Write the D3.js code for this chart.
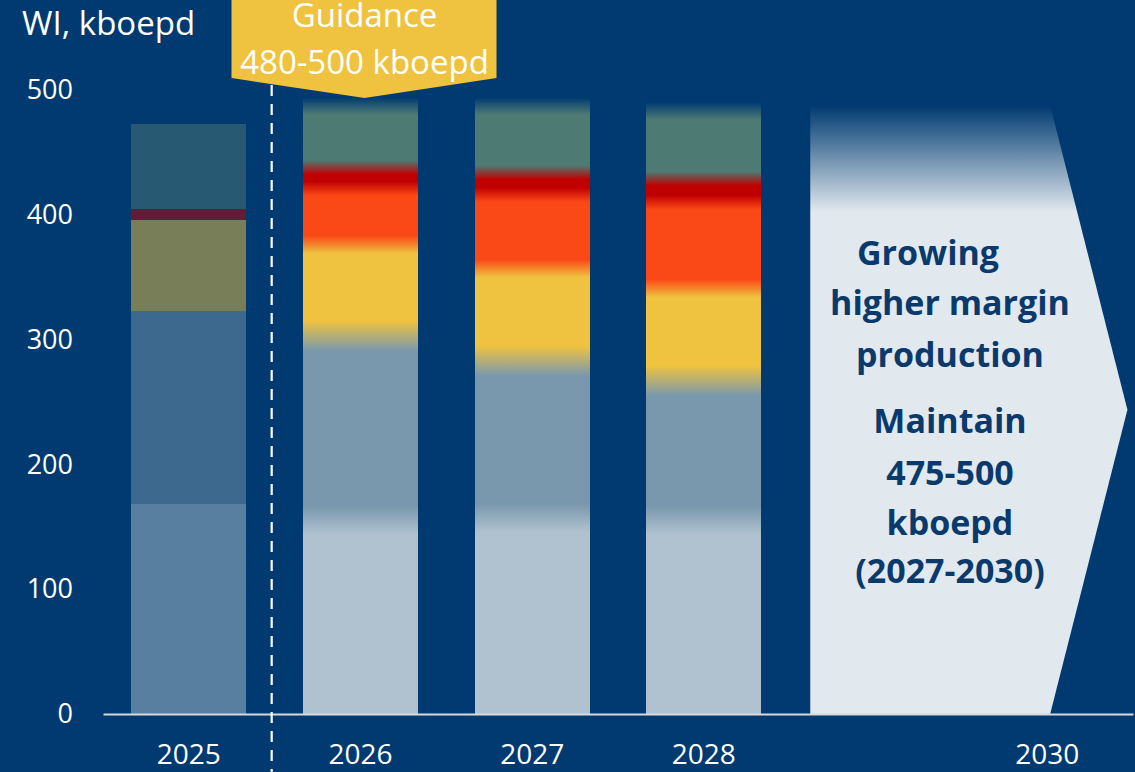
<!DOCTYPE html>
<html>
<head>
<meta charset="utf-8">
<script src="https://cdn.jsdelivr.net/npm/d3@7"></script>
<style>
  html, body { margin: 0; padding: 0; background: #003a70; }
  svg { display: block; }
  text { font-family: "Open Sans", "Noto Sans", sans-serif; }
</style>
</head>
<body>
<svg id="chart" width="1135" height="772"></svg>
<script>
// ---- data -------------------------------------------------------------
const years      = ["2025", "2026", "2027", "2028", "2029", "2030"];
const yearLabels = ["2025", "2026", "2027", "2028", "", "2030"];
const barYears   = ["2025", "2026", "2027", "2028"];
const actualYear = "2025";                 // drawn at half strength, crisp edges

// stacked production tiers, WI kboepd, bottom to top
const tierKeys = ["tier1", "tier2", "tier3", "tier4", "tier5", "tier6"];
const tier1 = [168, 155, 157, 155];
const tier2 = [155, 148, 126, 112];
const tier3 = [ 73,  73,  74,  74];
const tier4 = [  0,  45,  59,  69];
const tier5 = [  9,  17,  18,  19];
const tier6 = [ 68,  56,  60,  61];
const tierValues = [tier1, tier2, tier3, tier4, tier5, tier6];

const yTicks = [0, 100, 200, 300, 400, 500];

const guidanceLines = ["Guidance", "480-500 kboepd"];
const outlookRange  = [475, 500];
const outlookLines  = ["Growing", "higher margin", "production",
                       "Maintain", "475-500", "kboepd", "(2027-2030)"];

// ---- styles -----------------------------------------------------------
const W = 1135, H = 772;
const bg = "#003a70";
const tierColors = ["#b0c2cf", "#7a98ad", "#efc340", "#fb4817", "#c00000", "#4e7a74"];
// half-width (px) of the soft blend above each tier boundary: tier1|2, 2|3, 3|4, 4|5, 5|6
const blendHalf = [14, 15, 9, 7, 7];
const topFade = 17;
const arrowFill = "#e2e9ee";
const textNavy = "#0a3a6c";

const svg = d3.select("#chart");
svg.append("rect").attr("width", W).attr("height", H).attr("fill", bg);
const defs = svg.append("defs");

// ---- scales -----------------------------------------------------------
const x = d3.scaleBand().domain(years).range([103, 1133])
  .paddingInner(0.33).paddingOuter(0.165);
const y = d3.scaleLinear().domain([0, 500]).range([714, 90]);

const rows = barYears.map((yr, i) => {
  const r = { year: yr };
  tierKeys.forEach((k, j) => { r[k] = tierValues[j][i]; });
  return r;
});
const stacked = d3.stack().keys(tierKeys)(rows);

// ---- soft-edged gradients for forecast bars ---------------------------
rows.forEach((r, i) => {
  if (r.year === actualYear) return;
  const total = stacked[stacked.length - 1][i][1];
  const yTop = y(total), yBot = y(0), span = yBot - yTop;
  const off = py => Math.max(0, Math.min(1, (py - yTop) / span));
  const stops = [];
  const top = tierColors.length - 1;
  stops.push({ o: 0, c: tierColors[top], a: 0 });
  stops.push({ o: off(yTop + topFade), c: tierColors[top], a: 1 });
  for (let k = top - 1; k >= 0; k--) {
    const yb = y(stacked[k][i][1]);
    const h = blendHalf[k];
    stops.push({ o: off(yb - h), c: tierColors[k + 1], a: 1 });
    stops.push({ o: off(yb + h), c: tierColors[k], a: 1 });
  }
  stops.push({ o: 1, c: tierColors[0], a: 1 });
  let last = 0;
  stops.forEach(s => { s.o = Math.max(s.o, last); last = s.o; });

  const g = defs.append("linearGradient")
    .attr("id", "mix-" + r.year)
    .attr("gradientUnits", "userSpaceOnUse")
    .attr("x1", 0).attr("x2", 0).attr("y1", yTop).attr("y2", yBot);
  g.selectAll("stop").data(stops).join("stop")
    .attr("offset", s => s.o)
    .attr("stop-color", s => s.c)
    .attr("stop-opacity", s => s.a);
});

// ---- stacked bars -----------------------------------------------------
svg.append("g").attr("shape-rendering", "crispEdges")
  .selectAll("g").data(stacked).join("g")
  .each(function (series, si) {
    d3.select(this).selectAll("rect")
      .data(series.filter(d => d[1] > d[0]))
      .join("rect")
      .attr("x", d => x(d.data.year))
      .attr("width", x.bandwidth())
      .attr("y", d => y(d[1]))
      .attr("height", d => y(d[0]) - y(d[1]))
      .attr("fill", d => d.data.year === actualYear ? tierColors[si] : `url(#mix-${d.data.year})`)
      .attr("fill-opacity", d => d.data.year === actualYear ? 0.5 : 1);
  });

// ---- outlook arrow (2029-2030) ----------------------------------------
const arrowTopVal = d3.mean(outlookRange);
const aTop = y(arrowTopVal), aBot = y(0);
const aLeft = x("2029") - x.step() * 0.045;
const aShoulder = x("2030") + x.bandwidth() / 2 + 3;
const aTip = aShoulder + x.step() * 0.45;

const ag = defs.append("linearGradient").attr("id", "arrow-fade")
  .attr("gradientUnits", "userSpaceOnUse")
  .attr("x1", 0).attr("x2", 0).attr("y1", aTop).attr("y2", y(402));
ag.append("stop").attr("offset", 0).attr("stop-color", arrowFill).attr("stop-opacity", 0);
ag.append("stop").attr("offset", 1).attr("stop-color", arrowFill).attr("stop-opacity", 1);

svg.append("path")
  .attr("d", d3.line()([[aLeft, aTop], [aShoulder, aTop], [aTip, (aTop + aBot) / 2],
                        [aShoulder, aBot], [aLeft, aBot]]) + "Z")
  .attr("fill", "url(#arrow-fade)");

const lineBase = [265, 315, 367, 433, 485, 535, 583];
const lineShift = [-22, 0, 0, 0, 0, 0, 0];
svg.append("g")
  .selectAll("text").data(outlookLines).join("text")
  .attr("x", (d, i) => 950 + lineShift[i])
  .attr("y", (d, i) => lineBase[i])
  .attr("text-anchor", "middle")
  .attr("font-size", 34).attr("font-weight", 700)
  .attr("fill", textNavy)
  .text(d => d);

// ---- axes -------------------------------------------------------------
const yAxis = svg.append("g").attr("transform", "translate(103,0)")
  .call(d3.axisLeft(y).tickValues(yTicks).tickSize(0).tickPadding(30));
yAxis.select(".domain").remove();
yAxis.selectAll("text").attr("fill", "#fff").attr("font-size", 27)
  .style("font-family", '"Open Sans", sans-serif');

const xAxis = svg.append("g").attr("transform", `translate(0,${y(0)})`)
  .call(d3.axisBottom(x).tickSize(0).tickSizeOuter(0).tickPadding(30)
    .tickFormat((d, i) => yearLabels[i]));
xAxis.select(".domain").attr("stroke", "#d9d9d9").attr("stroke-width", 2);
xAxis.selectAll("text").attr("fill", "#fff").attr("font-size", 28)
  .style("font-family", '"Open Sans", sans-serif');

// ---- actual / forecast divider ---------------------------------------
const divX = (x("2025") + x.bandwidth() + x("2026")) / 2 - 3;
svg.append("line")
  .attr("x1", divX).attr("x2", divX).attr("y1", 85).attr("y2", H)
  .attr("stroke", "#fff").attr("stroke-width", 2.2)
  .attr("stroke-dasharray", "11 8");

// ---- guidance callout -------------------------------------------------
const gc = x("2026") + x.bandwidth() / 2 + 4;
svg.append("path")
  .attr("d", d3.line()([[gc - 133, -2], [gc + 132, -2], [gc + 132, 78], [gc, 98], [gc - 133, 78]]) + "Z")
  .attr("fill", "#efc340");
svg.append("g").selectAll("text").data(guidanceLines).join("text")
  .attr("x", gc).attr("y", (d, i) => [27, 74][i])
  .attr("text-anchor", "middle").attr("font-size", 33).attr("fill", "#fff")
  .text(d => d);

// ---- unit label -------------------------------------------------------
svg.append("text").attr("x", 22).attr("y", 35)
  .attr("font-size", 33).attr("fill", "#fff")
  .text("WI, kboepd");
</script>
</body>
</html>
